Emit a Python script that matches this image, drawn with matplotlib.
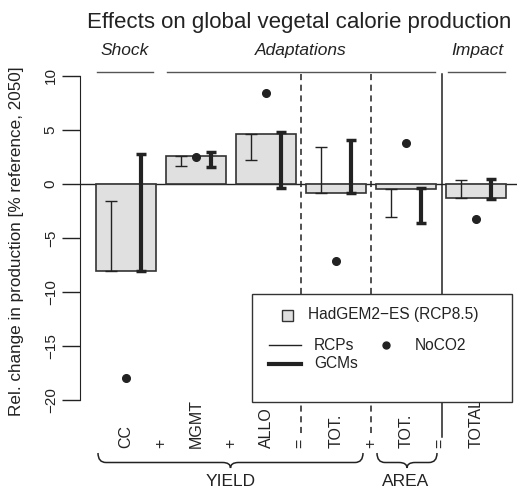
import numpy as np
import matplotlib
matplotlib.use("Agg")
import matplotlib.pyplot as plt
from matplotlib.patches import Rectangle, PathPatch
from matplotlib.path import Path
from matplotlib.lines import Line2D

plt.rcParams['font.family'] = ['Liberation Sans', 'DejaVu Sans']

# data
labels = ["CC", "MGMT", "ALLO", "TOT.", "TOT.", "TOTAL"]
ops = ["+", "+", "=", "+", "="]
hadgem = [-8.05, 2.56, 4.6, -0.86, -0.5, -1.33]
rcp_lo = [-8.05, 1.67, 2.25, -0.86, -3.1, -1.33]
rcp_hi = [-1.55, 2.56, 4.6, 3.45, -0.5, 0.37]
gcm_lo = [-8.05, 1.55, -0.4, -0.86, -3.6, -1.35]
gcm_hi = [2.8, 2.93, 4.85, 4.05, -0.37, 0.5]
noco2 = [-18.0, 2.47, 8.4, -7.1, 3.77, -3.27]

W, H = 517, 491
def fx(px): return px / W
def fy(py): return 1 - py / H

dark = "#222222"
fig = plt.figure(figsize=(W / 100, H / 100), dpi=100)
ax = fig.add_axes([fx(80), fy(410.8), (517 - 80) / W, (410.8 - 65.2) / H])
ax.set_xlim(-0.654, 5.589)
ax.set_ylim(-21, 11)

x = np.arange(len(labels))
ax.axhline(0, color=dark, lw=1, zorder=1)
ax.bar(x, hadgem, width=0.86, color="#e0e0e0", edgecolor="#333333", lw=1.2, zorder=2)

rlo, rhi = np.array(rcp_lo), np.array(rcp_hi)
glo, ghi = np.array(gcm_lo), np.array(gcm_hi)
ax.errorbar(x - 0.215, (rlo + rhi) / 2, yerr=(rhi - rlo) / 2, fmt="none",
            ecolor=dark, elinewidth=1, capsize=4, capthick=1, zorder=3)
ax.errorbar(x + 0.215, (glo + ghi) / 2, yerr=(ghi - glo) / 2, fmt="none",
            ecolor=dark, elinewidth=3, capsize=3.5, capthick=2.5, zorder=3)
ax.plot(x, noco2, "o", color=dark, ms=5.5, zorder=4)

# separators, running past the axis into the label area
for xs, ls in [(2.5, (0, (4, 3))), (3.5, (0, (4, 3))), (4.52, "-")]:
    ax.plot([xs, xs], [10.2, -23.4], color=dark, lw=1.1, ls=ls, clip_on=False, zorder=1)

for s in ["top", "right", "bottom"]:
    ax.spines[s].set_visible(False)
ax.spines["left"].set_bounds(-20, 10)
ax.spines["left"].set_color(dark)
ax.set_xticks([])
ax.set_yticks([10, 5, 0, -5, -10, -15, -20])
ax.tick_params(axis="y", length=13, width=1, color=dark, labelsize=11,
               labelrotation=90, pad=3, labelcolor=dark)
for t in ax.get_yticklabels():
    t.set_va("center")

fig.text(fx(17), fy(241), "Rel. change in production [% reference, 2050]",
         rotation=90, ha="center", va="center", fontsize=12.3, color=dark)
fig.text(fx(299), fy(28.3), "Effects on global vegetal calorie production",
         ha="center", va="baseline", fontsize=16, color=dark)

# group headings
for cx, txt, x0, x1 in [(125, "Shock", 97, 153), (301, "Adaptations", 167, 435),
                        (477, "Impact", 448, 505)]:
    fig.text(fx(cx), fy(50), txt, ha="center", va="center", fontsize=12.5,
             style="italic", color=dark)
    fig.add_artist(Line2D([fx(x0), fx(x1)], [fy(71.7), fy(71.7)], color="#555555", lw=1))

# bottom labels
for i, lab in enumerate(labels):
    fig.text(fx(126 + 70 * i), fy(448), lab, rotation=90, ha="center", va="bottom",
             fontsize=11.5, color=dark)
for i, op in enumerate(ops):
    fig.text(fx(161 + 70 * i), fy(448), op, rotation=90, ha="center", va="bottom",
             fontsize=11.5, color=dark)

def brace(x0, x1, ytop, ybot, r=8):
    xm = (x0 + x1) / 2
    ymid = (ytop + ybot) / 2 + 2
    pts = [(x0, ytop), (x0, ymid), (x0 + r, ymid), (xm - r, ymid), (xm, ymid), (xm, ybot),
           (xm, ymid), (xm + r, ymid), (x1 - r, ymid), (x1, ymid), (x1, ytop)]
    codes = [Path.MOVETO, Path.CURVE3, Path.CURVE3, Path.LINETO, Path.CURVE3, Path.CURVE3,
             Path.CURVE3, Path.CURVE3, Path.LINETO, Path.CURVE3, Path.CURVE3]
    verts = [(fx(a), fy(b)) for a, b in pts]
    fig.add_artist(PathPatch(Path(verts, codes), fill=False, edgecolor=dark, lw=1.1,
                             transform=fig.transFigure))

brace(98, 363, 453, 468)
brace(377, 437, 453, 468)
fig.text(fx(231), fy(481), "YIELD", ha="center", va="center", fontsize=12.5, color=dark)
fig.text(fx(406), fy(481), "AREA", ha="center", va="center", fontsize=12.5, color=dark)

# legend box
fig.add_artist(Rectangle((fx(252), fy(402)), (512 - 252) / W, (402 - 294) / H,
                         facecolor="white", edgecolor="#333333", lw=1,
                         transform=fig.transFigure, zorder=5))
fig.add_artist(Rectangle((fx(281.5), fy(320.5)), 11 / W, 11 / H, facecolor="#e0e0e0",
                         edgecolor="#333333", lw=1, transform=fig.transFigure, zorder=6))
fig.text(fx(308), fy(315), "HadGEM2\u2212ES (RCP8.5)", ha="left", va="center",
         fontsize=11.2, color=dark, zorder=6)
fig.add_artist(Line2D([fx(269), fx(301)], [fy(345), fy(345)], color=dark, lw=1, zorder=6))
fig.text(fx(314), fy(345), "RCPs", ha="left", va="center", fontsize=11.2, color=dark, zorder=6)
fig.add_artist(Line2D([fx(269), fx(301)], [fy(364), fy(364)], color=dark, lw=3, zorder=6))
fig.text(fx(314), fy(364), "GCMs", ha="left", va="center", fontsize=11.2, color=dark, zorder=6)
fig.add_artist(Line2D([fx(386)], [fy(345)], marker="o", ms=5, color=dark, zorder=6))
fig.text(fx(415), fy(345), "NoCO2", ha="left", va="center", fontsize=11.2, color=dark, zorder=6)

fig.savefig("out.png", dpi=100)
